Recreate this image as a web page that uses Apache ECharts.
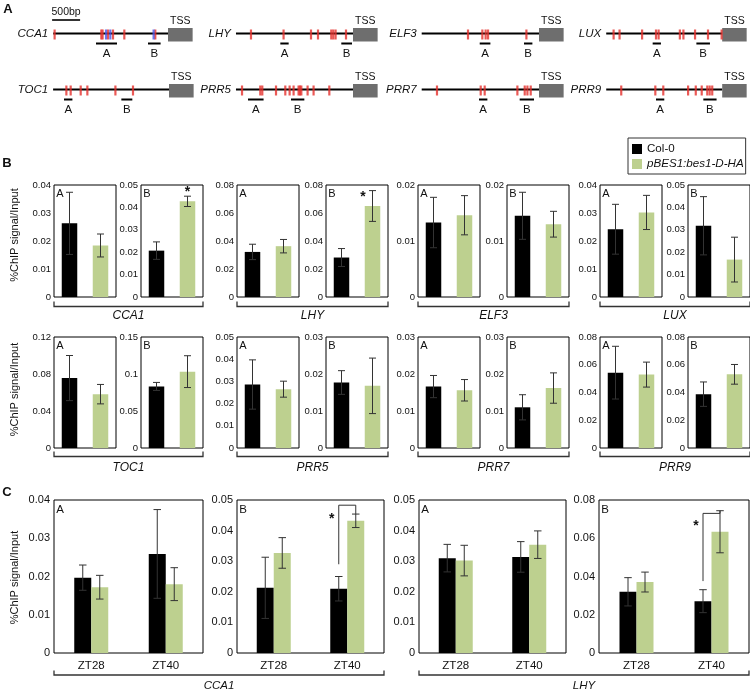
<!DOCTYPE html>
<html><head><meta charset="utf-8">
<script src="https://cdn.jsdelivr.net/npm/echarts/dist/echarts.min.js"></script>
<style>html,body{margin:0;padding:0;background:#fff}#c{width:750px;height:690px}</style>
</head><body><div id="c"></div>
<script>
// ================= DATA =================
// Panel A: promoter maps (bp relative to TSS)
const genesA = ['CCA1','LHY','ELF3','LUX','TOC1','PRR5','PRR7','PRR9'];
const promoterStartBp = [-2050,-2090,-2095,-2085,-2070,-2090,-2095,-2085];
const tssBoxBp = 440;
const redSitesBp = [
  [-2025,-1191,-1168,-1072,-982,-780,-227],
  [-1822,-1240,-750,-625,-388,-352,-311,-125],
  [-1268,-1012,-953,-910,-225],
  [-1952,-1845,-1440,-1190,-1143,-761,-697,-488,-255,-10],
  [-1833,-1756,-1577,-1458,-957,-643],
  [-1982,-1656,-1620,-1375,-1209,-1132,-1061,-972,-947,-923,-811,-704,-423],
  [-1822,-1041,-970,-386,-255,-207,-148],
  [-1815,-1202,-1059,-613,-475,-368,-268,-225,-179]
];
const blueSitesBp = [[-1107,-1030,-257],[],[],[],[],[],[],[]];
const ampliconA = [[-1286,-911],[-1298,-1149],[-1059,-868],[-1250,-1101],[-1875,-1725],[-1875,-1597],[-1072,-922],[-1190,-1041]];
const ampliconB = [[-357,-132],[-209,-18],[-268,-118],[-464,-220],[-851,-655],[-1107,-869],[-345,-89],[-339,-101]];
const scaleBarBp = 500;
const scaleBarStartBp = -2070;

// Panel B
const bGenes = ['CCA1','LHY','ELF3','LUX','TOC1','PRR5','PRR7','PRR9'];
const bCats = ['Col-0','pBES1:bes1-D-HA'];
const bCol0A    = [0.0263,0.0322,0.0133,0.0242,0.0756,0.0286,0.0166,0.0543];
const bCol0AErr = [0.0111,0.0055,0.0045,0.0089,0.0244,0.0111,0.0030,0.0190];
const bBesA     = [0.0184,0.0363,0.0146,0.0302,0.0582,0.0265,0.0156,0.0529];
const bBesAErr  = [0.0041,0.0048,0.0035,0.0061,0.0105,0.0036,0.0029,0.0090];
const bCol0B    = [0.0207,0.0282,0.0145,0.0318,0.0832,0.0177,0.0110,0.0388];
const bCol0BErr = [0.0039,0.0064,0.0042,0.0130,0.0054,0.0032,0.0034,0.0088];
const bBesB     = [0.0427,0.0650,0.0130,0.0167,0.1032,0.0168,0.0162,0.0531];
const bBesBErr  = [0.0023,0.0110,0.0023,0.0100,0.0215,0.0075,0.0041,0.0071];
const bMaxA = [0.04,0.08,0.02,0.04,0.12,0.05,0.03,0.08];
const bIntA = [0.01,0.02,0.01,0.01,0.04,0.01,0.01,0.02];
const bMaxB = [0.05,0.08,0.02,0.05,0.15,0.03,0.03,0.08];
const bIntB = [0.01,0.02,0.01,0.01,0.05,0.01,0.01,0.02];
const bStarGenes = ['CCA1','LHY'];
const bStarValues = [0.0478,0.0728];

// Panel C
const cCats = ['ZT28','ZT40'];
const cGenes = ['CCA1','CCA1','LHY','LHY'];
const cRegions = ['A','B','A','B'];
const cCol0    = [[0.0197,0.0259],[0.0213,0.0210],[0.0310,0.0314],[0.0320,0.0271]];
const cCol0Err = [[0.0033,0.0116],[0.0100,0.0040],[0.0045,0.0050],[0.0074,0.0060]];
const cBes     = [[0.0172,0.0180],[0.0327,0.0432],[0.0302,0.0354],[0.0371,0.0634]];
const cBesErr  = [[0.0031,0.0043],[0.0050,0.0022],[0.0050,0.0045],[0.0052,0.0110]];
const cMax = [0.04,0.05,0.05,0.08];
const cInt = [0.01,0.01,0.01,0.02];
// significance: panel index, category index, [bracket bottom, bracket top, right end], star value
const cSigPanels = [1,3];
const cSigCat = [1,1];
const cSigLines = [[0.0290,0.0483,0.0454],[0.0376,0.0730,0.0744]];
const cSigStar = [0.0445,0.0674];

// ================= STYLE / LAYOUT =================
const FONT = '"Liberation Sans", Arial, Helvetica, sans-serif';
const TXT = '#111';
const RED = '#e5302c', BLUE = '#4a55e6', GREEN = '#bdd08f', ERR = '#333';

const aTssX = [168,353,539,723,169,353,539,723];
const aRowY = [33.5,33.5,33.5,33.5,89.5,89.5,89.5,89.5];
const BP_PER_PX = 17.86, aMin = -2200, aMax = 500;

const bLeftA = [54,237,418,600], bLeftB = [141,326,507,688], bW = 62;
const bTop = [185,337], bH = [112,111];
const bBracketY = [306.5,456.5], bLabelY = [315.5,468];
const bTitleY = [235,389.5];
const bStarDx = [0,-9.5];

const cLeft = [54,237,419,599], cWidth = [149,147,147,150], cTop = 500, cH = 153;
const cBarW = 17;

const grids = [], xAxes = [], yAxes = [], series = [], graphics = [];
function addGrid(g, xa, ya){
  grids.push(g); const i = grids.length-1;
  xa.gridIndex = i; ya.gridIndex = i; xAxes.push(xa); yAxes.push(ya); return i;
}
function txt(x,y,text,opt){
  opt = opt||{};
  graphics.push({type:'text', x:x, y:y, rotation:opt.rotation||0, silent:true, z:10,
    style:{text:text, fill:TXT, fontFamily:FONT, fontSize:opt.size||11, fontStyle:opt.italic?'italic':'normal',
      fontWeight:opt.bold?'bold':'normal', align:opt.align||'center', verticalAlign:'middle',
      textAlign:opt.align||'center', textVerticalAlign:'middle'}});
}
function bracket(x1,x2,yb,h){
  graphics.push({type:'polyline', silent:true, shape:{points:[[x1,yb-h],[x1,yb],[x2,yb],[x2,yb-h]]},
    style:{stroke:'#333', lineWidth:1.3}});
}
function tstyle(text,size,extra){
  return Object.assign({text:text, fill:TXT, fontFamily:FONT, fontSize:size, align:'center', verticalAlign:'middle',
    textAlign:'center', textVerticalAlign:'middle'}, extra||{});
}
function errSeries(gi, data, capW){
  return {type:'custom', xAxisIndex:gi, yAxisIndex:gi, silent:true, z:4, data:data,
    renderItem:function(params, api){
      const x = api.value(0), v = api.value(1), e = api.value(2), off = api.value(3);
      const t = api.coord([x, v+e]), b = api.coord([x, v-e]);
      const cx = t[0] + off, h = capW/2, st = {stroke:ERR, lineWidth:1};
      return {type:'group', children:[
        {type:'line', shape:{x1:cx,y1:t[1],x2:cx,y2:b[1]}, style:st},
        {type:'line', shape:{x1:cx-h,y1:t[1],x2:cx+h,y2:t[1]}, style:st},
        {type:'line', shape:{x1:cx-h,y1:b[1],x2:cx+h,y2:b[1]}, style:st}
      ]};
    }};
}

// ================= PANEL A =================
txt(8,9,'A',{bold:true,size:13});
genesA.forEach(function(name,i){
  const gi = addGrid({left:aTssX[i] + aMin/BP_PER_PX, top:aRowY[i]-10, width:(aMax-aMin)/BP_PER_PX, height:20, show:false},
    {type:'value', min:aMin, max:aMax, show:false},
    {type:'value', min:-1, max:1, show:false});
  series.push({type:'custom', xAxisIndex:gi, yAxisIndex:gi, silent:true, z:2,
    data:[[promoterStartBp[i], tssBoxBp]],
    renderItem:function(params, api){
      const s = api.coord([api.value(0),0]), t = api.coord([0,0]), e = api.coord([api.value(1),0]);
      const cy = s[1];
      return {type:'group', children:[
        {type:'line', shape:{x1:s[0],y1:cy,x2:t[0],y2:cy}, style:{stroke:'#000',lineWidth:1.8}},
        {type:'rect', shape:{x:t[0],y:cy-5.5,width:e[0]-t[0],height:13.5}, style:{fill:'#6e6e6e'}},
        {type:'text', x:(t[0]+e[0])/2, y:cy-12, style:tstyle('TSS',10.5)},
        {type:'text', x:s[0]-5, y:cy, style:tstyle(name,11.5,{fontStyle:'italic',align:'right',textAlign:'right'})}
      ]};
    }});
  series.push({type:'scatter', xAxisIndex:gi, yAxisIndex:gi, silent:true, z:3, symbol:'rect', symbolSize:[2.2,10], symbolOffset:[0,1],
    itemStyle:{color:RED}, data:redSitesBp[i].map(function(v){return [v,0];})});
  if (blueSitesBp[i].length) series.push({type:'scatter', xAxisIndex:gi, yAxisIndex:gi, silent:true, z:3, symbol:'rect', symbolSize:[2.2,10], symbolOffset:[0,1],
    itemStyle:{color:BLUE}, data:blueSitesBp[i].map(function(v){return [v,0];})});
  series.push({type:'custom', xAxisIndex:gi, yAxisIndex:gi, silent:true, z:2,
    data:[ampliconA[i], ampliconB[i]],
    renderItem:function(params, api){
      const a = api.coord([api.value(0),0]), b = api.coord([api.value(1),0]);
      const cy = a[1];
      return {type:'group', children:[
        {type:'line', shape:{x1:a[0],y1:cy+10,x2:b[0],y2:cy+10}, style:{stroke:'#000',lineWidth:2}},
        {type:'text', x:(a[0]+b[0])/2, y:cy+20.5, style:tstyle(['A','B'][params.dataIndex],11.5)}
      ]};
    }});
  if (i===0) series.push({type:'custom', xAxisIndex:gi, yAxisIndex:gi, silent:true, z:2,
    data:[[scaleBarStartBp, scaleBarStartBp+scaleBarBp]],
    renderItem:function(params, api){
      const a = api.coord([api.value(0),0]), b = api.coord([api.value(1),0]);
      const cy = a[1];
      return {type:'group', children:[
        {type:'line', shape:{x1:a[0],y1:cy-13.5,x2:b[0],y2:cy-13.5}, style:{stroke:'#000',lineWidth:1.6}},
        {type:'text', x:(a[0]+b[0])/2, y:cy-21, style:tstyle('500bp',10.5)}
      ]};
    }});
});

// ================= PANEL B =================
txt(7,163,'B',{bold:true,size:13});
bGenes.forEach(function(gene,i){
  const row = Math.floor(i/4), col = i%4;
  [0,1].forEach(function(k){
    const left = k ? bLeftB[col] : bLeftA[col];
    const vals = k ? [bCol0B[i], bBesB[i]] : [bCol0A[i], bBesA[i]];
    const errs = k ? [bCol0BErr[i], bBesBErr[i]] : [bCol0AErr[i], bBesAErr[i]];
    const gi = addGrid({left:left, top:bTop[row], width:bW, height:bH[row], show:true, borderColor:'#000', borderWidth:1, backgroundColor:'transparent'},
      {type:'category', data:bCats, axisLine:{show:false}, axisTick:{show:false}, axisLabel:{show:false}},
      {type:'value', min:0, max:k?bMaxB[i]:bMaxA[i], interval:k?bIntB[i]:bIntA[i],
       axisLine:{show:false}, axisTick:{show:false}, splitLine:{show:false},
       axisLabel:{fontSize:9.5, margin:3, color:TXT, fontFamily:FONT}});
    series.push({type:'bar', name:'bBars', xAxisIndex:gi, yAxisIndex:gi, barWidth:15.5, silent:true, z:2,
      data:vals.map(function(v,j){return {value:v, itemStyle:{color:j?GREEN:'#000'}};})});
    series.push(errSeries(gi, vals.map(function(v,j){return [j,v,errs[j],0];}), 7));
    const si = bStarGenes.indexOf(gene);
    if (k===1 && si>=0){
      const dx = bStarDx[si];
      series.push({type:'custom', xAxisIndex:gi, yAxisIndex:gi, silent:true, z:5, data:[[1,bStarValues[si]]],
        renderItem:function(params, api){
          const p = api.coord([api.value(0), api.value(1)]);
          return {type:'text', x:p[0]+dx, y:p[1]+2, style:tstyle('*',14,{fontWeight:'bold'})};
        }});
    }
    txt(left+6, bTop[row]+9, k?'B':'A', {size:11});
  });
  bracket(bLeftA[col], bLeftB[col]+bW, bBracketY[row], 5);
  txt((bLeftA[col]+bLeftB[col]+bW)/2, bLabelY[row], gene, {italic:true, size:12});
});
txt(15,bTitleY[0],'%ChIP signal/Input',{rotation:Math.PI/2,size:11});
txt(15,bTitleY[1],'%ChIP signal/Input',{rotation:Math.PI/2,size:11});

// ================= PANEL C =================
txt(7,492,'C',{bold:true,size:13});
cGenes.forEach(function(gene,p){
  const gi = addGrid({left:cLeft[p], top:cTop, width:cWidth[p], height:cH, show:true, borderColor:'#000', borderWidth:1, backgroundColor:'transparent'},
    {type:'category', data:cCats, axisLine:{show:false}, axisTick:{show:false},
     axisLabel:{fontSize:11.5, margin:7, color:TXT, fontFamily:FONT}},
    {type:'value', min:0, max:cMax[p], interval:cInt[p], axisLine:{show:false}, axisTick:{show:false}, splitLine:{show:false},
     axisLabel:{fontSize:11, margin:4, color:TXT, fontFamily:FONT}});
  series.push({type:'bar', name:'Col-0', xAxisIndex:gi, yAxisIndex:gi, barWidth:cBarW, barGap:'0%', silent:true, z:2,
    itemStyle:{color:'#000'}, data:cCol0[p]});
  series.push({type:'bar', name:'pBES1:bes1-D-HA', xAxisIndex:gi, yAxisIndex:gi, barWidth:cBarW, barGap:'0%', silent:true, z:2,
    itemStyle:{color:GREEN}, data:cBes[p]});
  const ed = [];
  cCats.forEach(function(c,j){
    ed.push([j, cCol0[p][j], cCol0Err[p][j], -cBarW/2]);
    ed.push([j, cBes[p][j], cBesErr[p][j], cBarW/2]);
  });
  series.push(errSeries(gi, ed, 7.5));
  const si = cSigPanels.indexOf(p);
  if (si>=0){
    const L = cSigLines[si];
    series.push({type:'custom', xAxisIndex:gi, yAxisIndex:gi, silent:true, z:5,
      data:[[cSigCat[si], L[0], L[1], L[2], cSigStar[si]]],
      renderItem:function(params, api){
        const c = api.value(0);
        const pb = api.coord([c, api.value(1)]), pt = api.coord([c, api.value(2)]), pe = api.coord([c, api.value(3)]), ps = api.coord([c, api.value(4)]);
        const bx = pb[0]-cBarW/2, gx = pb[0]+cBarW/2;
        return {type:'group', children:[
          {type:'polyline', shape:{points:[[bx,pb[1]],[bx,pt[1]],[gx,pt[1]],[gx,pe[1]]]}, style:{stroke:ERR, lineWidth:1, fill:null}},
          {type:'text', x:bx-7, y:ps[1]+2, style:tstyle('*',14,{fontWeight:'bold'})}
        ]};
      }});
  }
  txt(cLeft[p]+6, cTop+10, cRegions[p], {size:11.5});
});
bracket(cLeft[0], cLeft[1]+cWidth[1], 675, 4.5);
bracket(cLeft[2], cLeft[3]+cWidth[3], 675, 4.5);
txt((cLeft[0]+cLeft[1]+cWidth[1])/2, 685.5, 'CCA1', {italic:true, size:11.5});
txt((cLeft[2]+cLeft[3]+cWidth[3])/2, 685.5, 'LHY', {italic:true, size:11.5});
txt(15,577.5,'%ChIP signal/Input',{rotation:Math.PI/2,size:11});

// ================= CHART =================
const chart = echarts.init(document.getElementById('c'), null, {renderer:'canvas', width:750, height:690});
chart.setOption({
  animation:false,
  backgroundColor:'#fff',
  textStyle:{fontFamily:FONT},
  grid:grids, xAxis:xAxes, yAxis:yAxes, series:series, graphic:graphics,
  legend:{
    data:['Col-0','pBES1:bes1-D-HA'], orient:'vertical', left:628, top:138,
    itemWidth:10, itemHeight:10, itemGap:1, icon:'rect', selectedMode:false,
    padding:[4,2,3,4], borderColor:'#333', borderWidth:1,
    textStyle:{fontSize:11.6, fontFamily:FONT, color:TXT, lineHeight:14,
      rich:{i:{fontStyle:'italic', fontSize:11.6, fontFamily:FONT, color:TXT, lineHeight:14}}},
    formatter:function(n){ return n==='Col-0' ? n : '{i|'+n+'}'; }
  }
});
</script></body></html>
